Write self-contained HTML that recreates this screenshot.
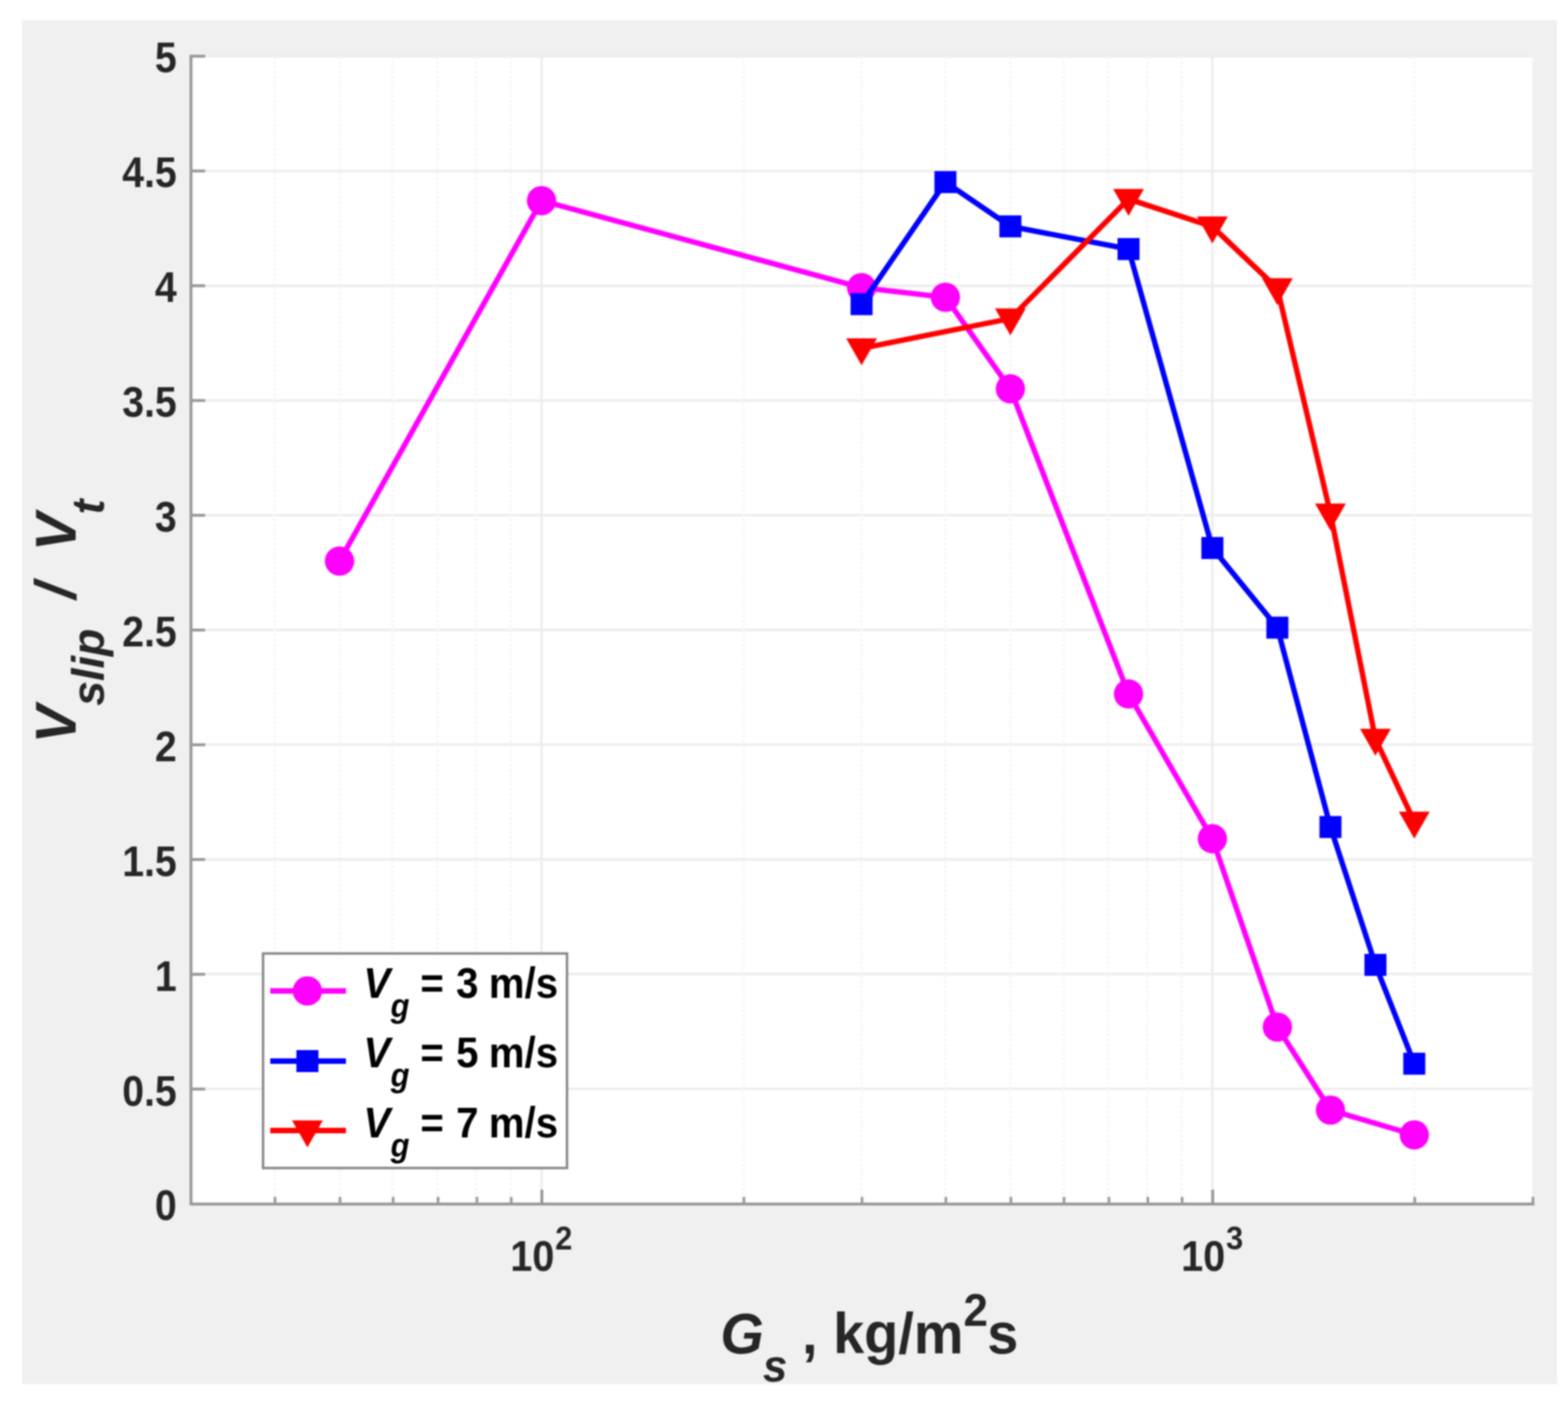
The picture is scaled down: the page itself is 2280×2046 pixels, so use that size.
<!DOCTYPE html>
<html lang="en"><head><meta charset="utf-8"><title>Vslip / Vt , Gs</title>
<style>
html,body{margin:0;padding:0;background:#fff;}
body{width:2280px;height:2046px;overflow:hidden;}
svg{display:block;filter:blur(0.8px);}
</style></head><body>
<svg width="2280" height="2046" viewBox="0 0 2280 2046">
<rect x="0" y="0" width="2280" height="2046" fill="#ffffff"/>
<rect x="32" y="29" width="2232" height="1983.8" fill="#f0f0f0"/>
<rect x="277.3" y="82.0" width="1951.0000000000002" height="1668.0" fill="#ffffff"/>
<g stroke="#ededed" stroke-width="3.6" fill="none">
<line x1="277.3" y1="1583.2" x2="2228.3" y2="1583.2"/>
<line x1="277.3" y1="1416.4" x2="2228.3" y2="1416.4"/>
<line x1="277.3" y1="1249.6" x2="2228.3" y2="1249.6"/>
<line x1="277.3" y1="1082.8" x2="2228.3" y2="1082.8"/>
<line x1="277.3" y1="916.0" x2="2228.3" y2="916.0"/>
<line x1="277.3" y1="749.2" x2="2228.3" y2="749.2"/>
<line x1="277.3" y1="582.4" x2="2228.3" y2="582.4"/>
<line x1="277.3" y1="415.6" x2="2228.3" y2="415.6"/>
<line x1="277.3" y1="248.8" x2="2228.3" y2="248.8"/>
<line x1="277.3" y1="82.0" x2="2228.3" y2="82.0"/>
<line x1="787.4" y1="82.0" x2="787.4" y2="1750.0"/>
<line x1="1762.9" y1="82.0" x2="1762.9" y2="1750.0"/>
</g>
<g stroke="#f6f6f6" stroke-width="3.5" stroke-dasharray="4 3" fill="none">
<line x1="399.2" y1="82.0" x2="399.2" y2="1750.0"/>
<line x1="493.7" y1="82.0" x2="493.7" y2="1750.0"/>
<line x1="571.0" y1="82.0" x2="571.0" y2="1750.0"/>
<line x1="636.3" y1="82.0" x2="636.3" y2="1750.0"/>
<line x1="692.8" y1="82.0" x2="692.8" y2="1750.0"/>
<line x1="742.7" y1="82.0" x2="742.7" y2="1750.0"/>
<line x1="1081.0" y1="82.0" x2="1081.0" y2="1750.0"/>
<line x1="1252.8" y1="82.0" x2="1252.8" y2="1750.0"/>
<line x1="1374.7" y1="82.0" x2="1374.7" y2="1750.0"/>
<line x1="1469.2" y1="82.0" x2="1469.2" y2="1750.0"/>
<line x1="1546.5" y1="82.0" x2="1546.5" y2="1750.0"/>
<line x1="1611.8" y1="82.0" x2="1611.8" y2="1750.0"/>
<line x1="1668.3" y1="82.0" x2="1668.3" y2="1750.0"/>
<line x1="1718.2" y1="82.0" x2="1718.2" y2="1750.0"/>
<line x1="2056.5" y1="82.0" x2="2056.5" y2="1750.0"/>
<line x1="2228.3" y1="82.0" x2="2228.3" y2="1750.0"/>
</g>
<g stroke="#989898" stroke-width="4.2" fill="none">
<line x1="277.7" y1="79.8" x2="277.7" y2="1752.8000000000002"/>
<line x1="277.7" y1="1750.9" x2="2231.3" y2="1750.9"/>
</g>
<g stroke="#989898" stroke-width="4.2" fill="none">
<line x1="277.7" y1="1583.7" x2="298.3" y2="1583.7"/>
<line x1="277.7" y1="1416.8" x2="298.3" y2="1416.8"/>
<line x1="277.7" y1="1249.9" x2="298.3" y2="1249.9"/>
<line x1="277.7" y1="1083.0" x2="298.3" y2="1083.0"/>
<line x1="277.7" y1="916.2" x2="298.3" y2="916.2"/>
<line x1="277.7" y1="749.3" x2="298.3" y2="749.3"/>
<line x1="277.7" y1="582.4" x2="298.3" y2="582.4"/>
<line x1="277.7" y1="415.5" x2="298.3" y2="415.5"/>
<line x1="277.7" y1="248.6" x2="298.3" y2="248.6"/>
<line x1="277.7" y1="81.7" x2="298.3" y2="81.7"/>
<line x1="787.9" y1="1750.9" x2="787.9" y2="1729.9"/>
<line x1="1763.4" y1="1750.9" x2="1763.4" y2="1729.9"/>
</g>
<g stroke="#9c9c9c" stroke-width="4.0" fill="none">
<line x1="399.9" y1="1750.9" x2="399.9" y2="1740.4"/>
<line x1="494.4" y1="1750.9" x2="494.4" y2="1740.4"/>
<line x1="571.7" y1="1750.9" x2="571.7" y2="1740.4"/>
<line x1="637.0" y1="1750.9" x2="637.0" y2="1740.4"/>
<line x1="693.5" y1="1750.9" x2="693.5" y2="1740.4"/>
<line x1="743.4" y1="1750.9" x2="743.4" y2="1740.4"/>
<line x1="1081.7" y1="1750.9" x2="1081.7" y2="1740.4"/>
<line x1="1253.5" y1="1750.9" x2="1253.5" y2="1740.4"/>
<line x1="1375.4" y1="1750.9" x2="1375.4" y2="1740.4"/>
<line x1="1469.9" y1="1750.9" x2="1469.9" y2="1740.4"/>
<line x1="1547.2" y1="1750.9" x2="1547.2" y2="1740.4"/>
<line x1="1612.5" y1="1750.9" x2="1612.5" y2="1740.4"/>
<line x1="1669.0" y1="1750.9" x2="1669.0" y2="1740.4"/>
<line x1="1718.9" y1="1750.9" x2="1718.9" y2="1740.4"/>
<line x1="2057.2" y1="1750.9" x2="2057.2" y2="1740.4"/>
<line x1="2229.0" y1="1750.9" x2="2229.0" y2="1740.4"/>
</g>
<polyline points="493.7,815.9 787.4,291.8 1252.8,418.3 1374.7,432.3 1469.2,565.4 1641.0,1009.1 1762.9,1219.6 1857.4,1493.5 1934.6,1614.2 2056.5,1650.3" fill="none" stroke="#ff00ff" stroke-width="7.8" stroke-linejoin="round"/>
<circle cx="493.7" cy="815.9" r="21.3" fill="#ff00ff"/>
<circle cx="787.4" cy="291.8" r="21.3" fill="#ff00ff"/>
<circle cx="1252.8" cy="418.3" r="21.3" fill="#ff00ff"/>
<circle cx="1374.7" cy="432.3" r="21.3" fill="#ff00ff"/>
<circle cx="1469.2" cy="565.4" r="21.3" fill="#ff00ff"/>
<circle cx="1641.0" cy="1009.1" r="21.3" fill="#ff00ff"/>
<circle cx="1762.9" cy="1219.6" r="21.3" fill="#ff00ff"/>
<circle cx="1857.4" cy="1493.5" r="21.3" fill="#ff00ff"/>
<circle cx="1934.6" cy="1614.2" r="21.3" fill="#ff00ff"/>
<circle cx="2056.5" cy="1650.3" r="21.3" fill="#ff00ff"/>
<polyline points="1252.8,442.3 1374.7,264.8 1469.2,329.2 1641.0,362.2 1762.9,796.9 1857.4,912.7 1934.6,1202.6 2000.0,1403.1 2056.5,1546.8" fill="none" stroke="#0000ff" stroke-width="7.8" stroke-linejoin="round"/>
<rect x="1236.8" y="426.3" width="32" height="32" fill="#0000ff"/>
<rect x="1358.7" y="248.8" width="32" height="32" fill="#0000ff"/>
<rect x="1453.2" y="313.2" width="32" height="32" fill="#0000ff"/>
<rect x="1625.0" y="346.2" width="32" height="32" fill="#0000ff"/>
<rect x="1746.9" y="780.9" width="32" height="32" fill="#0000ff"/>
<rect x="1841.4" y="896.7" width="32" height="32" fill="#0000ff"/>
<rect x="1918.6" y="1186.6" width="32" height="32" fill="#0000ff"/>
<rect x="1984.0" y="1387.1" width="32" height="32" fill="#0000ff"/>
<rect x="2040.5" y="1530.8" width="32" height="32" fill="#0000ff"/>
<polyline points="1252.8,506.7 1469.2,463.3 1641.0,289.5 1762.9,329.5 1857.4,419.3 1934.6,746.9 2000.0,1074.5 2056.5,1194.9" fill="none" stroke="#ff0000" stroke-width="7.8" stroke-linejoin="round"/>
<polygon points="1230.4,492.0 1275.2,492.0 1252.8,531.2" fill="#ff0000"/>
<polygon points="1446.8,448.6 1491.6,448.6 1469.2,487.8" fill="#ff0000"/>
<polygon points="1618.6,274.8 1663.4,274.8 1641.0,314.0" fill="#ff0000"/>
<polygon points="1740.5,314.8 1785.3,314.8 1762.9,354.0" fill="#ff0000"/>
<polygon points="1835.0,404.6 1879.8,404.6 1857.4,443.8" fill="#ff0000"/>
<polygon points="1912.2,732.2 1957.0,732.2 1934.6,771.4" fill="#ff0000"/>
<polygon points="1977.6,1059.8 2022.4,1059.8 2000.0,1099.0" fill="#ff0000"/>
<polygon points="2034.1,1180.2 2078.9,1180.2 2056.5,1219.4" fill="#ff0000"/>
<rect x="382.5" y="1386.5" width="442.0" height="312.0" fill="#ffffff" stroke="#858585" stroke-width="3.5"/>
<line x1="393" y1="1441" x2="503" y2="1441" stroke="#ff00ff" stroke-width="7.8"/>
<circle cx="447.0" cy="1441.0" r="21.3" fill="#ff00ff"/>
<g transform="translate(528.5,1450.5) scale(0.935,1)"><text x="0" y="0" font-family="'Liberation Sans', sans-serif" font-weight="bold" font-size="62.5" fill="#000" text-anchor="start"><tspan font-style="italic">V</tspan><tspan font-style="italic" font-size="48" dx="0.5" dy="28.5">g</tspan><tspan dy="-28.5" dx="-0.5" xml:space="preserve"> = </tspan><tspan dx="2">3</tspan><tspan dx="-1.5" xml:space="preserve"> m/s</tspan></text></g>
<line x1="393" y1="1543" x2="503" y2="1543" stroke="#0000ff" stroke-width="7.8"/>
<rect x="431.0" y="1527.0" width="32" height="32" fill="#0000ff"/>
<g transform="translate(528.5,1551.5) scale(0.935,1)"><text x="0" y="0" font-family="'Liberation Sans', sans-serif" font-weight="bold" font-size="62.5" fill="#000" text-anchor="start"><tspan font-style="italic">V</tspan><tspan font-style="italic" font-size="48" dx="0.5" dy="28.5">g</tspan><tspan dy="-28.5" dx="-0.5" xml:space="preserve"> = </tspan><tspan dx="2">5</tspan><tspan dx="-1.5" xml:space="preserve"> m/s</tspan></text></g>
<line x1="393" y1="1644" x2="503" y2="1644" stroke="#ff0000" stroke-width="7.8"/>
<polygon points="424.6,1629.3 469.4,1629.3 447.0,1668.5" fill="#ff0000"/>
<g transform="translate(528.5,1653.5) scale(0.935,1)"><text x="0" y="0" font-family="'Liberation Sans', sans-serif" font-weight="bold" font-size="62.5" fill="#000" text-anchor="start"><tspan font-style="italic">V</tspan><tspan font-style="italic" font-size="48" dx="0.5" dy="28.5">g</tspan><tspan dy="-28.5" dx="-0.5" xml:space="preserve"> = </tspan><tspan dx="2">7</tspan><tspan dx="-1.5" xml:space="preserve"> m/s</tspan></text></g>
<g transform="translate(257.0,1774.4) scale(0.905,1)"><text x="0" y="0" font-family="'Liberation Sans', sans-serif" font-weight="bold" font-size="63" fill="#262626" text-anchor="end">0</text></g>
<g transform="translate(257.0,1607.5) scale(0.905,1)"><text x="0" y="0" font-family="'Liberation Sans', sans-serif" font-weight="bold" font-size="63" fill="#262626" text-anchor="end">0.5</text></g>
<g transform="translate(257.0,1440.5) scale(0.905,1)"><text x="0" y="0" font-family="'Liberation Sans', sans-serif" font-weight="bold" font-size="63" fill="#262626" text-anchor="end">1</text></g>
<g transform="translate(257.0,1273.6) scale(0.905,1)"><text x="0" y="0" font-family="'Liberation Sans', sans-serif" font-weight="bold" font-size="63" fill="#262626" text-anchor="end">1.5</text></g>
<g transform="translate(257.0,1106.6) scale(0.905,1)"><text x="0" y="0" font-family="'Liberation Sans', sans-serif" font-weight="bold" font-size="63" fill="#262626" text-anchor="end">2</text></g>
<g transform="translate(257.0,939.7) scale(0.905,1)"><text x="0" y="0" font-family="'Liberation Sans', sans-serif" font-weight="bold" font-size="63" fill="#262626" text-anchor="end">2.5</text></g>
<g transform="translate(257.0,772.8) scale(0.905,1)"><text x="0" y="0" font-family="'Liberation Sans', sans-serif" font-weight="bold" font-size="63" fill="#262626" text-anchor="end">3</text></g>
<g transform="translate(257.0,605.8) scale(0.905,1)"><text x="0" y="0" font-family="'Liberation Sans', sans-serif" font-weight="bold" font-size="63" fill="#262626" text-anchor="end">3.5</text></g>
<g transform="translate(257.0,438.9) scale(0.905,1)"><text x="0" y="0" font-family="'Liberation Sans', sans-serif" font-weight="bold" font-size="63" fill="#262626" text-anchor="end">4</text></g>
<g transform="translate(257.0,271.9) scale(0.905,1)"><text x="0" y="0" font-family="'Liberation Sans', sans-serif" font-weight="bold" font-size="63" fill="#262626" text-anchor="end">4.5</text></g>
<g transform="translate(257.0,105.0) scale(0.905,1)"><text x="0" y="0" font-family="'Liberation Sans', sans-serif" font-weight="bold" font-size="63" fill="#262626" text-anchor="end">5</text></g>
<g transform="translate(741.9,1847.6) scale(0.915,1)"><text x="0" y="0" font-family="'Liberation Sans', sans-serif" font-weight="bold" font-size="63" fill="#262626" text-anchor="start">10<tspan font-size="49" dy="-30.5" dx="1.3">2</tspan></text></g>
<g transform="translate(1717.4,1847.6) scale(0.915,1)"><text x="0" y="0" font-family="'Liberation Sans', sans-serif" font-weight="bold" font-size="63" fill="#262626" text-anchor="start">10<tspan font-size="49" dy="-30.5" dx="1.3">3</tspan></text></g>
<g transform="translate(1047.5,1968.0) scale(0.967,1)"><text x="0" y="0" font-family="'Liberation Sans', sans-serif" font-weight="bold" font-size="84" fill="#262626" text-anchor="start"><tspan font-style="italic">G</tspan><tspan font-style="italic" font-size="66" dy="41" dx="-1.5">s</tspan><tspan dy="-41" dx="-1" xml:space="preserve"> , kg/m</tspan><tspan font-size="66" dy="-40">2</tspan><tspan dy="40" dx="-0.9">s</tspan></text></g>
<g transform="translate(110.0,1081.0) rotate(-90) scale(0.99,1)"><text x="0" y="0" font-family="'Liberation Sans', sans-serif" font-weight="bold" font-size="84" fill="#262626" text-anchor="start"><tspan font-style="italic">V</tspan><tspan font-style="italic" font-size="66" dy="41" dx="-1">slip</tspan><tspan font-style="italic" dy="-41" dx="-3" xml:space="preserve">  /  </tspan><tspan font-style="italic" dx="0">V</tspan><tspan font-style="italic" font-size="66" dy="41" dx="-2">t</tspan></text></g>
</svg>
</body></html>
